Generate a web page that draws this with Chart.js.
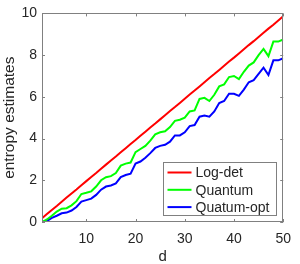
<!DOCTYPE html>
<html>
<head>
<meta charset="utf-8">
<script src="https://cdn.jsdelivr.net/npm/chart.js@4"></script>
<style>
  html, body { margin: 0; padding: 0; background: #fff; }
  #wrap { width: 300px; height: 264px; }
</style>
</head>
<body>
<div id="wrap"><canvas id="chart" width="300" height="264"></canvas></div>
<script>
const dValues = [];
for (let d = 1; d <= 50; d++) dValues.push(d);

const seriesNames = ["Log-det", "Quantum", "Quatum-opt"];
const seriesColors = ["#ff0000", "#00ff00", "#0000ff"];

const logDet = [0.18, 0.38, 0.58, 0.77, 0.97, 1.17, 1.37, 1.56, 1.76, 1.96,
  2.16, 2.35, 2.55, 2.75, 2.95, 3.14, 3.34, 3.54, 3.74, 3.93,
  4.13, 4.33, 4.53, 4.72, 4.92, 5.12, 5.32, 5.51, 5.71, 5.91,
  6.11, 6.30, 6.50, 6.70, 6.90, 7.09, 7.29, 7.49, 7.69, 7.88,
  8.08, 8.28, 8.48, 8.67, 8.87, 9.07, 9.27, 9.46, 9.66, 9.86];

const quantum = [0.0, 0.12, 0.30, 0.50, 0.64, 0.66, 0.80, 1.00, 1.34, 1.40,
  1.47, 1.70, 2.00, 2.15, 2.20, 2.35, 2.70, 2.80, 2.85, 3.35,
  3.50, 3.65, 3.90, 4.20, 4.30, 4.35, 4.55, 4.85, 4.90, 5.00,
  5.30, 5.35, 5.90, 5.95, 5.80, 6.10, 6.50, 6.60, 6.95, 7.00,
  6.85, 7.20, 7.50, 7.65, 8.00, 8.30, 7.95, 8.65, 8.65, 8.75];

const quantumOpt = [0.0, 0.05, 0.20, 0.30, 0.42, 0.45, 0.55, 0.72, 0.98, 1.05,
  1.12, 1.30, 1.55, 1.70, 1.75, 1.85, 2.15, 2.25, 2.32, 2.80,
  2.90, 3.08, 3.30, 3.55, 3.65, 3.70, 3.85, 4.15, 4.15, 4.30,
  4.60, 4.65, 5.05, 5.10, 5.05, 5.30, 5.70, 5.80, 6.15, 6.15,
  6.05, 6.35, 6.70, 6.80, 7.10, 7.40, 7.05, 7.75, 7.75, 7.85];

const xTicks = [10, 20, 30, 40, 50];
const yTicks = [0, 2, 4, 6, 8, 10];

const axisColor = "#808080";
const textColor = "#262626";
const fontFamily = "'Liberation Sans', Arial, Helvetica, sans-serif";

function toPoints(values) {
  return values.map((v, i) => ({ x: dValues[i], y: v }));
}

// box around the plot, inward ticks and the legend inside the axes
const matlabAxes = {
  id: "matlabAxes",
  afterDraw(chart) {
    const ctx = chart.ctx;
    const a = chart.chartArea;
    const xs = chart.scales.x;
    const ys = chart.scales.y;
    ctx.save();
    ctx.strokeStyle = axisColor;
    ctx.lineWidth = 1;
    ctx.strokeRect(Math.round(a.left) + 0.5, Math.round(a.top) + 0.5,
      Math.round(a.right - a.left) - 1, Math.round(a.bottom - a.top) - 1);

    const tl = 3;
    ctx.beginPath();
    xTicks.forEach((t) => {
      const px = Math.round(xs.getPixelForValue(t)) + 0.5;
      ctx.moveTo(px, a.bottom);
      ctx.lineTo(px, a.bottom - tl);
      ctx.moveTo(px, a.top);
      ctx.lineTo(px, a.top + tl);
    });
    yTicks.forEach((t) => {
      const py = Math.round(ys.getPixelForValue(t)) + 0.5;
      ctx.moveTo(a.left, py);
      ctx.lineTo(a.left + tl, py);
      ctx.moveTo(a.right, py);
      ctx.lineTo(a.right - tl, py);
    });
    ctx.stroke();

    // legend
    const boxRight = a.right - 7;
    const boxBottom = a.bottom - 7;
    const boxW = 113;
    const boxH = 53;
    const bx = Math.round(boxRight - boxW) + 0.5;
    const by = Math.round(boxBottom - boxH) + 0.5;
    ctx.fillStyle = "#ffffff";
    ctx.fillRect(bx, by, boxW, boxH);
    ctx.strokeStyle = axisColor;
    ctx.strokeRect(bx, by, boxW, boxH);
    ctx.font = "14px " + fontFamily;
    ctx.textBaseline = "middle";
    ctx.textAlign = "left";
    chart.data.datasets.forEach((ds, i) => {
      const ry = by + 10 + i * 17.3;
      ctx.strokeStyle = ds.borderColor;
      ctx.lineWidth = 2;
      ctx.beginPath();
      ctx.moveTo(bx + 4, ry);
      ctx.lineTo(bx + 28, ry);
      ctx.stroke();
      ctx.fillStyle = textColor;
      ctx.fillText(ds.label, bx + 32, ry + 1);
    });
    ctx.restore();
  }
};

new Chart(document.getElementById("chart").getContext("2d"), {
  type: "line",
  data: {
    datasets: [
      { label: seriesNames[0], data: toPoints(logDet), borderColor: seriesColors[0] },
      { label: seriesNames[1], data: toPoints(quantum), borderColor: seriesColors[1] },
      { label: seriesNames[2], data: toPoints(quantumOpt), borderColor: seriesColors[2] },
    ].map((ds) => ({ ...ds, borderWidth: 2, pointRadius: 0, tension: 0, fill: false })),
  },
  options: {
    responsive: false,
    animation: false,
    devicePixelRatio: 1,
    layout: { padding: { top: 5, right: 8, left: 0, bottom: 0 } },
    plugins: {
      legend: { display: false },
      tooltip: { enabled: false },
    },
    scales: {
      x: {
        type: "linear",
        min: 1,
        max: 50,
        afterBuildTicks: (scale) => {
          scale.ticks = xTicks.map((v) => ({ value: v }));
        },
        afterFit: (scale) => { scale.height = 42; },
        grid: { display: false, drawTicks: false },
        border: { display: false },
        ticks: {
          color: textColor,
          font: { family: fontFamily, size: 14 },
          padding: 9,
          maxRotation: 0,
        },
        title: {
          display: true,
          text: "d",
          color: textColor,
          font: { family: fontFamily, size: 15, lineHeight: 1 },
          padding: { top: 0, bottom: 0 },
        },
      },
      y: {
        type: "linear",
        min: 0,
        max: 10,
        afterBuildTicks: (scale) => {
          scale.ticks = yTicks.map((v) => ({ value: v }));
        },
        afterFit: (scale) => { scale.width = 42; },
        grid: { display: false, drawTicks: false },
        border: { display: false },
        ticks: {
          color: textColor,
          font: { family: fontFamily, size: 14 },
          padding: 5,
        },
        title: {
          display: true,
          text: "entropy estimates",
          color: textColor,
          font: { family: fontFamily, size: 15.5, lineHeight: 1 },
          padding: { top: 2, bottom: 0 },
        },
      },
    },
  },
  plugins: [matlabAxes],
});
</script>
</body>
</html>
